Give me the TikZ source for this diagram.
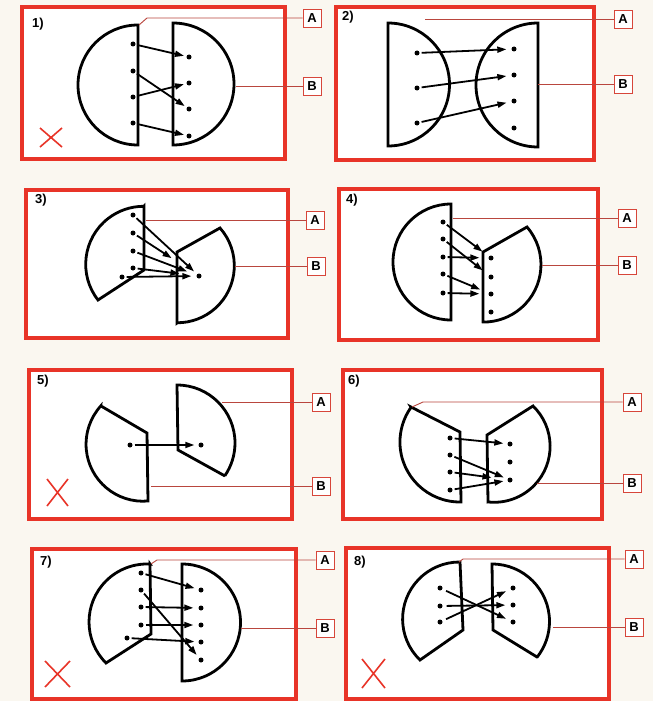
\documentclass[tikz,border=0pt]{standalone}
\usepackage{fontspec}
\setsansfont{Liberation Sans}
\usetikzlibrary{arrows.meta}
\definecolor{paper}{RGB}{250,247,240}
\definecolor{framered}{RGB}{232,52,40}
\definecolor{leaderred}{RGB}{185,70,62}
\definecolor{boxred}{RGB}{215,70,58}
\tikzset{
  frame/.style={draw=framered, line width=4.5pt},
  setshape/.style={draw=black, line width=2.8pt, line join=miter},
  dot/.style={circle, fill=black, inner sep=0pt, minimum size=5pt},
  arr/.style={line width=1.8pt, -{Triangle[length=9pt,width=6pt]}, shorten <=2pt, shorten >=2.5pt},
  lbl/.style={draw=boxred, line width=0.9pt, fill=white, minimum size=18pt, inner sep=0pt, font=\sffamily\bfseries\fontsize{13}{13}\selectfont},
  num/.style={anchor=west, inner sep=0pt, font=\sffamily\bfseries\fontsize{13}{13}\selectfont},
  leader/.style={draw=leaderred, line width=0.9pt},
  cross/.style={draw=framered, line width=1.6pt},
}
\begin{document}
\begin{tikzpicture}[x=1pt,y=-1pt]
\useasboundingbox[fill=paper] (0,0) rectangle (653,701);

% ---------- frames ----------
\draw[frame,fill=white] (22,7) rectangle (285,159);
\draw[frame,fill=white] (336,7) rectangle (594,160);
\draw[frame,fill=white] (26,190) rectangle (288,338);
\draw[frame,fill=white] (339,189) rectangle (598,340);
\draw[frame,fill=white] (29,370) rectangle (292,519);
\draw[frame,fill=white] (343,370) rectangle (602,519);
\draw[frame,fill=white] (32,549) rectangle (296,699);
\draw[frame,fill=white] (346,548) rectangle (609,699);

% ---------- numbers ----------
\node[num] (n1) at (32,24) {1)};
\node[num] (n2) at (342,17) {2)};
\node[num] (n3) at (35,200) {3)};
\node[num] (n4) at (346,200) {4)};
\node[num] (n5) at (37,381) {5)};
\node[num] (n6) at (348,381) {6)};
\node[num] (n7) at (40,562) {7)};
\node[num] (n8) at (354,562) {8)};

% ---------- crosses ----------
\draw[cross] (40,128) -- (62,147) (62,128) -- (40,147);
\draw[cross] (47,479) -- (68,506) (68,479) -- (47,506);
\draw[cross] (45,661) -- (70,687) (70,661) -- (45,687);
\draw[cross] (362,659) -- (385,688) (385,659) -- (362,688);

% ---------- panel 1 ----------
\draw[setshape] (138,25) -- (138,145) arc[start angle=90, end angle=270, radius=60] -- cycle;
\draw[setshape] (173,23) -- (173,145) arc[start angle=90, end angle=-90, radius=61] -- cycle;
\node[dot] (p1l1) at (133,44) {};
\node[dot] (p1l2) at (133,71) {};
\node[dot] (p1l3) at (133,97) {};
\node[dot] (p1l4) at (133,123) {};
\node[dot] (p1r1) at (189,57) {};
\node[dot] (p1r2) at (189,83) {};
\node[dot] (p1r3) at (189,109) {};
\node[dot] (p1r4) at (189,136) {};
\draw[arr] (p1l1) -- (p1r1);
\draw[arr] (p1l2) -- (p1r3);
\draw[arr] (p1l3) -- (p1r2);
\draw[arr] (p1l4) -- (p1r4);
\node[lbl] (p1A) at (312,18) {A};
\node[lbl] (p1B) at (312,86) {B};
\coordinate (p1a1) at (147,18);
\coordinate (p1a2) at (139,25);
\coordinate (p1b) at (236,86);
\draw[leader] (p1A.west) -- (p1a1) -- (p1a2);
\draw[leader] (p1B.west) -- (p1b);

% ---------- panel 2 ----------
\draw[setshape] (388,146) -- (388,23) arc[start angle=-90, end angle=90, radius=61.5] -- cycle;
\draw[setshape] (538,23) -- (538,147) arc[start angle=90, end angle=270, radius=62] -- cycle;
\node[dot] (p2l1) at (417,53) {};
\node[dot] (p2l2) at (417,88) {};
\node[dot] (p2l3) at (417,123) {};
\node[dot] (p2r1) at (514,49) {};
\node[dot] (p2r2) at (514,75) {};
\node[dot] (p2r3) at (514,101) {};
\node[dot] (p2r4) at (514,128) {};
\draw[arr,shorten >=5pt] (p2l1) -- (p2r1);
\draw[arr,shorten >=5pt] (p2l2) -- (p2r2);
\draw[arr,shorten >=5pt] (p2l3) -- (p2r3);
\node[lbl] (p2A) at (623,19) {A};
\node[lbl] (p2B) at (623,84) {B};
\coordinate (p2a) at (425,19);
\coordinate (p2b) at (538,84);
\draw[leader] (p2A.west) -- (p2a);
\draw[leader] (p2B.west) -- (p2b);

% ---------- panel 3 ----------
\draw[setshape] (144,206) -- (144,270) -- (98,300) arc[start angle=142, end angle=270, radius=58] -- cycle;
\draw[setshape] (177,323) -- (177,252) -- (220,228) arc[start angle=-41.5, end angle=90, radius=57] -- cycle;
\node[dot] (p3l1) at (133,215) {};
\node[dot] (p3l2) at (133,233) {};
\node[dot] (p3l3) at (133,251) {};
\node[dot] (p3l4) at (133,268) {};
\node[dot] (p3l5) at (122,277) {};
\node[dot] (p3r1) at (199,276) {};
\draw[arr,shorten >=4pt] (p3l1) -- (p3r1);
\draw[arr,shorten >=30pt] (p3l2) -- (p3r1);
\draw[arr,shorten >=10pt] (p3l3) -- (p3r1);
\draw[arr,shorten >=17pt] (p3l4) -- (p3r1);
\draw[arr,shorten >=5pt] (p3l5) -- (p3r1);
\node[lbl] (p3A) at (315,220) {A};
\node[lbl] (p3B) at (316,266) {B};
\coordinate (p3a) at (146,220);
\coordinate (p3b) at (235,266);
\draw[leader] (p3A.west) -- (p3a);
\draw[leader] (p3B.west) -- (p3b);

% ---------- panel 4 ----------
\draw[setshape] (451,204) -- (451,320) arc[start angle=90, end angle=270, radius=58] -- cycle;
\draw[setshape] (483,322) -- (483,252) -- (527,227) arc[start angle=-40.8, end angle=90, radius=57.5] -- cycle;
\node[dot] (p4l1) at (443,222) {};
\node[dot] (p4l2) at (443,239) {};
\node[dot] (p4l3) at (443,257) {};
\node[dot] (p4l4) at (443,274) {};
\node[dot] (p4l5) at (443,293) {};
\node[dot] (p4r1) at (491,258) {};
\node[dot] (p4r2) at (491,277) {};
\node[dot] (p4r3) at (491,294) {};
\node[dot] (p4r4) at (491,312) {};
\draw[arr,shorten >=8pt] (p4l1) -- (p4r1);
\draw[arr,shorten >=8pt] (p4l2) -- (p4r2);
\draw[arr,shorten >=9pt] (p4l3) -- (p4r1);
\draw[arr,shorten >=9pt] (p4l4) -- (p4r3);
\draw[arr,shorten >=9pt] (p4l5) -- (p4r3);
\node[lbl] (p4A) at (627,218) {A};
\node[lbl] (p4B) at (627,265) {B};
\coordinate (p4a) at (453,218);
\coordinate (p4b) at (542,265);
\draw[leader] (p4A.west) -- (p4a);
\draw[leader] (p4B.west) -- (p4b);

% ---------- panel 5 ----------
\draw[setshape] (101,406) -- (147,433) -- (148,501) arc[start angle=85, end angle=222.5, radius=57] -- cycle;
\draw[setshape] (225,476) -- (178,450) -- (177,385) arc[start angle=-90, end angle=34.5, radius=58] -- cycle;
\node[dot] (p5l1) at (130,445) {};
\node[dot] (p5r1) at (201,445) {};
\draw[arr,shorten >=4pt] (p5l1) -- (p5r1);
\node[lbl] (p5A) at (321,402) {A};
\node[lbl] (p5B) at (321,486) {B};
\coordinate (p5a) at (222,402);
\coordinate (p5b) at (151,486);
\draw[leader] (p5A.west) -- (p5a);
\draw[leader] (p5B.west) -- (p5b);

% ---------- panel 6 ----------
\draw[setshape] (411,407) -- (460,432) -- (461,502) arc[start angle=89, end angle=215.5, radius=60] -- cycle;
\draw[setshape] (488,502) -- (487,435) -- (533,406) arc[start angle=-46, end angle=96, radius=56] -- cycle;
\node[dot] (p6l1) at (450,438) {};
\node[dot] (p6l2) at (450,455) {};
\node[dot] (p6l3) at (450,472) {};
\node[dot] (p6l4) at (450,490) {};
\node[dot] (p6r1) at (510,444) {};
\node[dot] (p6r2) at (510,462) {};
\node[dot] (p6r3) at (510,480) {};
\draw[arr,shorten >=4pt] (p6l1) -- (p6r1);
\draw[arr,shorten >=4pt] (p6l2) -- (p6r3);
\draw[arr,shorten >=16pt] (p6l3) -- (p6r3);
\draw[arr,shorten >=4pt] (p6l4) -- (p6r3);
\node[lbl] (p6A) at (632,402) {A};
\node[lbl] (p6B) at (632,483) {B};
\coordinate (p6a1) at (423,402);
\coordinate (p6a2) at (412,407);
\coordinate (p6b) at (537,483);
\draw[leader] (p6A.west) -- (p6a1) -- (p6a2);
\draw[leader] (p6B.west) -- (p6b);

% ---------- panel 7 ----------
\draw[setshape] (150,564) -- (151,634) -- (106,663) arc[start angle=135, end angle=273, radius=58] -- cycle;
\draw[setshape] (182,564) -- (182,681) arc[start angle=90, end angle=-90, radius=58.5] -- cycle;
\node[dot] (p7l1) at (141,573) {};
\node[dot] (p7l2) at (141,590) {};
\node[dot] (p7l3) at (141,607) {};
\node[dot] (p7l4) at (141,625) {};
\node[dot] (p7l5) at (127,638) {};
\node[dot] (p7r1) at (201,590) {};
\node[dot] (p7r2) at (201,608) {};
\node[dot] (p7r3) at (201,625) {};
\node[dot] (p7r4) at (201,642) {};
\node[dot] (p7r5) at (201,660) {};
\draw[arr,shorten >=4pt] (p7l1) -- (p7r1);
\draw[arr,shorten >=4pt] (p7l2) -- (p7r5);
\draw[arr,shorten >=5pt] (p7l3) -- (p7r2);
\draw[arr,shorten >=5pt] (p7l4) -- (p7r3);
\draw[arr,shorten >=4pt] (p7l5) -- (p7r4);
\node[lbl] (p7A) at (325,560) {A};
\node[lbl] (p7B) at (325,628) {B};
\coordinate (p7a1) at (157,560);
\coordinate (p7a2) at (151,564);
\coordinate (p7b) at (241,628);
\draw[leader] (p7A.west) -- (p7a1) -- (p7a2);
\draw[leader] (p7B.west) -- (p7b);

% ---------- panel 8 ----------
\draw[setshape] (460,562) -- (463,630) -- (420,660) arc[start angle=134, end angle=270, radius=57] -- cycle;
\draw[setshape] (537,657) -- (493,630) -- (492,564) arc[start angle=-90, end angle=38, radius=57.5] -- cycle;
\node[dot] (p8l1) at (440,588) {};
\node[dot] (p8l2) at (440,606) {};
\node[dot] (p8l3) at (440,622) {};
\node[dot] (p8r1) at (513,588) {};
\node[dot] (p8r2) at (513,605) {};
\node[dot] (p8r3) at (513,622) {};
\draw[arr,shorten <=4pt,shorten >=5pt] (p8l1) -- (p8r3);
\draw[arr,shorten <=4pt,shorten >=5pt] (p8l2) -- (p8r2);
\draw[arr,shorten <=4pt,shorten >=5pt] (p8l3) -- (p8r1);
\node[lbl] (p8A) at (634,559) {A};
\node[lbl] (p8B) at (634,627) {B};
\coordinate (p8a1) at (463,559);
\coordinate (p8a2) at (459,562);
\coordinate (p8b) at (553,627);
\draw[leader] (p8A.west) -- (p8a1) -- (p8a2);
\draw[leader] (p8B.west) -- (p8b);
\end{tikzpicture}
\end{document}
